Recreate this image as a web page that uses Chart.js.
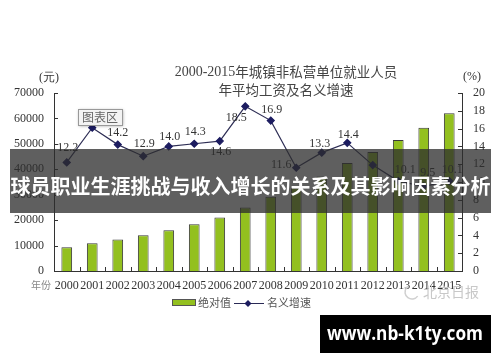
<!DOCTYPE html>
<html>
<head>
<meta charset="utf-8">
<script src="https://cdn.jsdelivr.net/npm/chart.js@4/dist/chart.umd.min.js"></script>
<style>
html,body{margin:0;padding:0;background:#fff;}
canvas{display:block;}
</style>
</head>
<body>
<canvas id="c" width="500" height="362"></canvas>
<script>
// ---- data ----
const years = ['2000','2001','2002','2003','2004','2005','2006','2007','2008','2009','2010','2011','2012','2013','2014','2015'];
const wages = [9371,10870,12422,14040,16024,18364,21001,24932,29229,32736,37147,42452,46769,51483,56360,62029];
const growth = [12.2,16.1,14.2,12.9,14.0,14.3,14.6,18.5,16.9,11.6,13.3,14.4,11.9,10.1,9.5,10.1];
const leftTicks = [0,10000,20000,30000,40000,50000,60000,70000];
const rightTicks = [0,2,4,6,8,10,12,14,16,18,20];
const titleLines = ['2000-2015年城镇非私营单位就业人员','年平均工资及名义增速'];
const seriesNames = ['绝对值','名义增速'];
const bannerText = '球员职业生涯挑战与收入增长的关系及其影响因素分析';
const siteText = 'www.nb-k1ty.com';

// label offsets (style); null = label not shown
const labelOffsets = [[1,-15],[0,-12],[0,-12],[1,-12],[1,-10],[1,-12],[1,11],[-9,11],[1,-11],[-15,-3],[-2,-9],[1,-8],null,[7,-11],[4,-14],[3,-11]];

const green = '#93c01f';
const serif = '"Liberation Serif", "DejaVu Serif", serif';
const cjk = '"Noto Sans CJK SC", sans-serif';

const overlay = {
  id: 'overlay',
  afterDraw(chart) {
    const ctx = chart.ctx;
    const ca = chart.chartArea;
    const yL = chart.scales.y, yR = chart.scales.y1, xs = chart.scales.x;
    ctx.save();
    // inner ticks
    ctx.strokeStyle = '#333'; ctx.lineWidth = 1;
    leftTicks.forEach(v => { const py = Math.round(yL.getPixelForValue(v)) + 0.5;
      ctx.beginPath(); ctx.moveTo(ca.left, py); ctx.lineTo(ca.left + 4, py); ctx.stroke(); });
    rightTicks.forEach(v => { const py = Math.round(yR.getPixelForValue(v)) + 0.5;
      ctx.beginPath(); ctx.moveTo(ca.right, py); ctx.lineTo(ca.right - 4, py); ctx.stroke(); });
    for (let i = 1; i < years.length; i++) {
      const px = Math.round((xs.getPixelForValue(i - 1) + xs.getPixelForValue(i)) / 2) + 0.5;
      ctx.beginPath(); ctx.moveTo(px, ca.bottom); ctx.lineTo(px, ca.bottom - 4); ctx.stroke();
    }
    // title
    ctx.fillStyle = '#444';
    ctx.textBaseline = 'middle';
    ctx.textAlign = 'left';
    const d = '2000-2015', rest = titleLines[0].slice(9);
    ctx.font = '14px ' + serif;
    const dw = ctx.measureText(d).width;
    ctx.font = '13.5px ' + cjk;
    const rw = ctx.measureText(rest).width;
    let sx = 286 - (dw + rw) / 2;
    ctx.font = '14px ' + serif; ctx.fillText(d, sx, 72);
    ctx.font = '13.5px ' + cjk; ctx.fillText(rest, sx + dw, 72);
    ctx.textAlign = 'center';
    ctx.font = '13.5px ' + cjk; ctx.fillText(titleLines[1], 286, 90);
    // units
    ctx.fillStyle = '#333';
    ctx.font = '12px ' + serif;
    ctx.fillText('(元)', 49, 78);
    ctx.fillText('(%)', 472, 77);
    ctx.fillStyle = '#888';
    ctx.font = '10px ' + cjk;
    ctx.fillText('年份', 41, 285);
    // legend
    ctx.fillStyle = green; ctx.fillRect(172, 299, 23, 6);
    ctx.strokeStyle = '#555'; ctx.strokeRect(172.5, 299.5, 23, 6);
    ctx.fillStyle = '#555'; ctx.textAlign = 'left'; ctx.font = '11px ' + cjk;
    ctx.fillText(seriesNames[0], 198, 303);
    ctx.strokeStyle = '#2a2a55'; ctx.beginPath(); ctx.moveTo(234, 303.5); ctx.lineTo(264, 303.5); ctx.stroke();
    ctx.fillStyle = '#1c1c60'; ctx.beginPath(); ctx.moveTo(248, 300); ctx.lineTo(251.5, 303.5); ctx.lineTo(248, 307); ctx.lineTo(244.5, 303.5); ctx.closePath(); ctx.fill();
    ctx.fillStyle = '#555'; ctx.fillText(seriesNames[1], 267, 303);
    // point labels
    const meta = chart.getDatasetMeta(1);
    ctx.fillStyle = '#333'; ctx.font = '12px ' + serif; ctx.textAlign = 'center';
    meta.data.forEach((pt, i) => {
      const o = labelOffsets[i];
      if (!o) return;
      ctx.fillText(growth[i].toFixed(1), pt.x + o[0], pt.y + o[1]);
    });
    // tooltip box "图表区"
    ctx.shadowColor = 'rgba(0,0,0,0.35)'; ctx.shadowBlur = 3; ctx.shadowOffsetX = 1; ctx.shadowOffsetY = 1;
    ctx.fillStyle = '#f3f3f3'; ctx.fillRect(78, 109, 44, 16);
    ctx.shadowColor = 'transparent';
    ctx.strokeStyle = '#999'; ctx.strokeRect(78.5, 109.5, 44, 16);
    ctx.fillStyle = '#666'; ctx.font = '12px ' + cjk; ctx.fillText('图表区', 100, 117.5);
    // watermark
    ctx.strokeStyle = '#d0d0d0'; ctx.lineWidth = 1.5;
    ctx.beginPath(); ctx.arc(412, 292, 7, Math.PI * 0.2, Math.PI * 1.3); ctx.stroke();
    ctx.fillStyle = '#c8c8c8'; ctx.font = '14px ' + cjk; ctx.textAlign = 'left';
    ctx.fillText('北京日报', 423, 292);
    // banner
    ctx.fillStyle = 'rgba(45,45,45,0.76)';
    ctx.fillRect(10, 149, 481, 64);
    ctx.fillStyle = '#fff'; ctx.font = 'bold 20px ' + cjk; ctx.textAlign = 'center';
    ctx.fillText(bannerText, 250.5, 186, 482);
    // site box
    ctx.fillStyle = '#000'; ctx.fillRect(320, 315, 171, 38);
    ctx.fillStyle = '#fff'; ctx.font = 'bold 19px "Open Sans", "DejaVu Sans", sans-serif';
    ctx.fillText(siteText, 405, 335, 156);
    ctx.restore();
  }
};

new Chart(document.getElementById('c'), {
  type: 'bar',
  data: {
    labels: years,
    datasets: [
      { type: 'bar', label: seriesNames[0], data: wages, yAxisID: 'y', backgroundColor: green,
        borderColor: '#3a3a3a', borderWidth: 1, barPercentage: 0.42, categoryPercentage: 1, order: 2 },
      { type: 'line', label: seriesNames[1], data: growth, yAxisID: 'y1', borderColor: '#2e2e55', borderWidth: 1.2,
        pointStyle: 'rectRot', pointRadius: 3.5, pointBackgroundColor: '#1c1c60', pointBorderColor: '#1c1c60',
        tension: 0, order: 1 }
    ]
  },
  options: {
    responsive: false, animation: false,
    layout: { padding: { top: 93, left: 0, right: 0, bottom: 0 } },
    plugins: { legend: { display: false }, title: { display: false }, tooltip: { enabled: false } },
    scales: {
      x: {
        offset: true,
        grid: { display: false, drawTicks: false },
        border: { display: true, color: '#333', width: 1 },
        ticks: { autoSkip: false, maxRotation: 0, minRotation: 0, padding: 8, color: '#333', font: { family: serif, size: 12 } },
        afterFit(s) { s.height = 91; }
      },
      y: {
        position: 'left', min: 0, max: 70000,
        grid: { display: false, drawTicks: false },
        border: { display: true, color: '#333', width: 1 },
        ticks: { stepSize: 10000, padding: 10, color: '#333', font: { family: serif, size: 12 },
          callback: v => String(v) },
        afterFit(s) { s.width = 54; }
      },
      y1: {
        position: 'right', min: 0, max: 20,
        grid: { display: false, drawTicks: false },
        border: { display: true, color: '#333', width: 1 },
        ticks: { stepSize: 2, padding: 11, color: '#333', font: { family: serif, size: 12 },
          callback: v => String(v) },
        afterFit(s) { s.width = 38; }
      }
    }
  },
  plugins: [overlay]
});
</script>
</body>
</html>
